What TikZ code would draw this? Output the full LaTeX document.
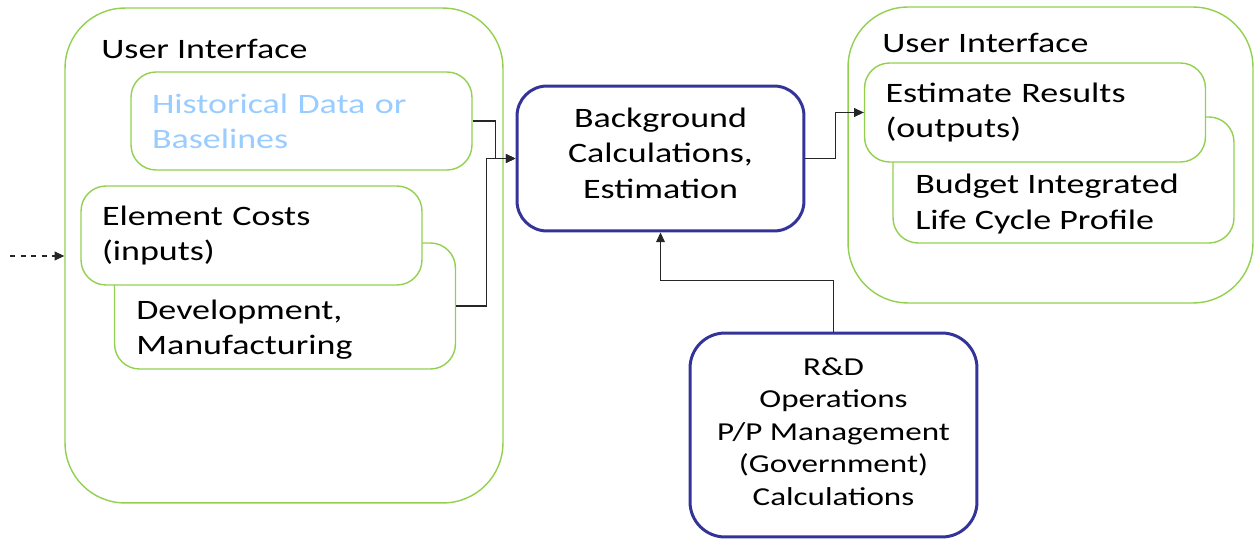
\documentclass[tikz,border=0pt]{standalone}
\usepackage{fontspec}
\setmainfont[FakeStretch=1.28]{Carlito}
\usetikzlibrary{arrows.meta}
\definecolor{uigreen}{HTML}{92D050}
\definecolor{calcblue}{HTML}{333399}
\definecolor{histblue}{HTML}{99CCFF}
\begin{document}
\begin{tikzpicture}[x=0.02cm, y=-0.02cm,
    font=\fontsize{16}{20}\selectfont,
    uibox/.style={draw=uigreen, line width=0.8pt, rounded corners=1.2cm, fill=white},
    inbox/.style={draw=uigreen, line width=0.8pt, rounded corners=0.5cm, fill=white,
        minimum width=6.82cm, text width=5.98cm, inner xsep=0.42cm, align=left},
    calcbox/.style={draw=calcblue, line width=1.7pt, rounded corners=0.6cm, fill=white,
        minimum width=5.74cm, align=center},
    title/.style={anchor=base west, inner sep=0pt},
    conn/.style={draw=black!85, line width=0.6pt, -{Triangle[length=5.5pt,width=5pt]}}]
    \useasboundingbox (0,0) rectangle (1254,540);

    \node[uibox, minimum width=8.76cm, minimum height=9.9cm] (uileft) at (284,255.5) {};
    \node[title] (uilefttitle) at (101,59) {User Interface};
    \node[inbox, minimum height=1.96cm, text=histblue] (hist) at (301.5,121) {Historical Data or\\Baselines};
    \node[inbox, minimum height=2.52cm] (dev) at (285,306) {};
    \node[anchor=west, inner sep=0pt, align=left] (devtext) at (136,330) {Development,\\Manufacturing};
    \node[inbox, minimum height=1.98cm] (elem) at (251.5,235.5) {Element Costs\\(inputs)};

    \node[uibox, minimum width=8.1cm, minimum height=5.92cm] (uiright) at (1050.5,155) {};
    \node[title] (uirighttitle) at (882,53) {User Interface};
    \node[inbox, minimum height=2.52cm] (budget) at (1063.5,180) {};
    \node[anchor=west, inner sep=0pt, align=left] (budgettext) at (915,204) {Budget Integrated\\Life Cycle Profile};
    \node[inbox, minimum height=1.98cm] (est) at (1035,112.5) {Estimate Results\\(outputs)};

    \node[calcbox, minimum height=2.9cm, text depth=6pt] (calc) at (660.5,158.5) {Background\\Calculations,\\Estimation};
    \node[calcbox, minimum height=4.08cm, rounded corners=0.7cm, text depth=4pt,
        font=\fontsize{14.7}{18.5}\selectfont] (rd) at (833.5,435) {R\&D\\Operations\\P/P Management\\(Government)\\Calculations};

    \coordinate (feed) at (10,256);
    \draw[conn, dashed] (feed) -- (uileft.west |- feed);
    \draw[conn] (hist.east) -- ++(23,0) |- (calc.west);
    \draw[conn] (dev.east) -- ++(30,0) |- (calc.west);
    \draw[conn] (calc.east) -- ++(30,0) |- (est.west);
    \draw[conn] (rd.north) -- ++(0,-51) -| (calc.south);
\end{tikzpicture}
\end{document}
